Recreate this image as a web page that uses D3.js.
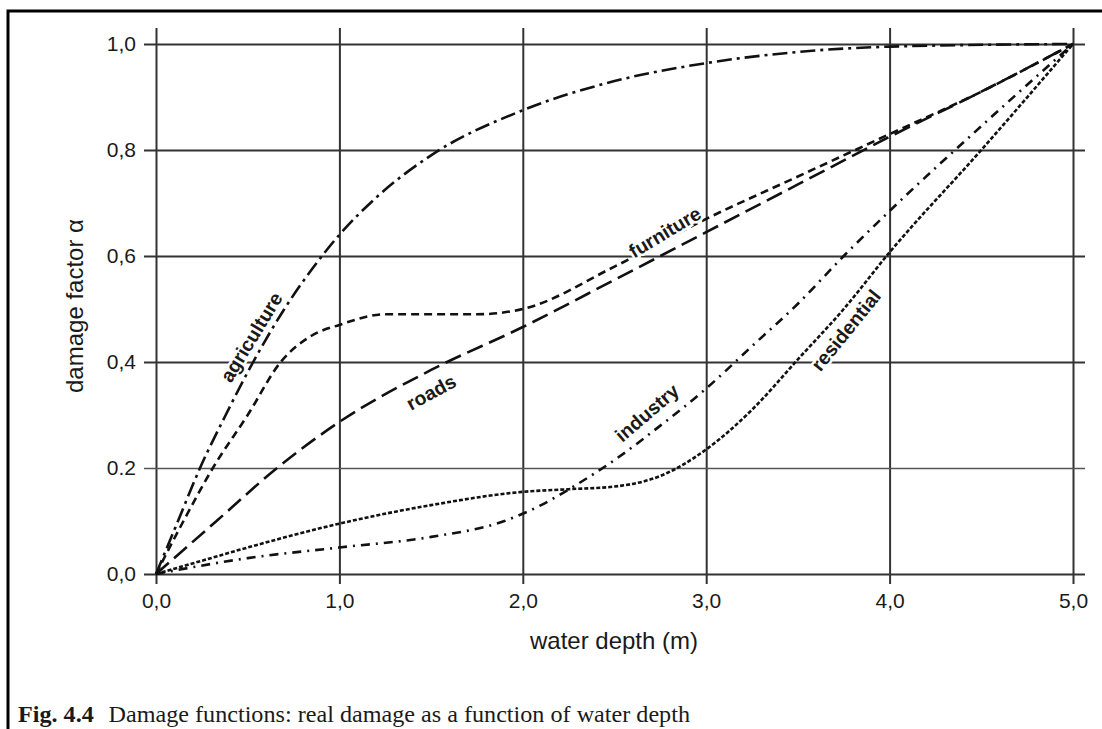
<!DOCTYPE html>
<html lang="en">
  <head>
    <meta charset="utf-8" />
    <title>Damage functions</title>
    <script src="https://d3js.org/d3.v7.js"></script>
    <style>
      body { margin: 0; background: #fff; }
      text { font-family: "Liberation Sans", Arial, sans-serif; fill: #1a1a1a; }
      text.caption { font-family: "Liberation Serif", "Times New Roman", serif; }
    </style>
  </head>
  <body>
    <script>

    // tick values and labels
    var xTicks = [0, 1, 2, 3, 4, 5];
    var xTickLabels = ["0,0", "1,0", "2,0", "3,0", "4,0", "5,0"];
    var yTicks = [0, 0.2, 0.4, 0.6, 0.8, 1.0];
    var yTickLabels = ["0,0", "0.2", "0,4", "0,6", "0,8", "1,0"];

    // damage curves (depth m, factor)
    var agriculture = [[0,0],[0.12,0.1],[0.24,0.2],[0.38,0.3],[0.53,0.4],[0.7,0.5],[0.85,0.575],[1,0.64],[1.2,0.71],[1.5,0.79],[2,0.875],[2.5,0.93],[3,0.964],[3.5,0.985],[4,0.995],[5,1]];
    var furniture = [[0,0],[0.15,0.1],[0.31,0.2],[0.5,0.3],[0.68,0.4],[0.85,0.45],[1,0.47],[1.25,0.49],[1.5,0.49],[1.75,0.49],[2,0.5],[2.5,0.58],[3,0.67],[3.5,0.75],[4,0.83],[4.5,0.91],[5,1]];
    var roads = [[0,0],[0.33,0.1],[0.66,0.2],[1,0.287],[1.5,0.385],[2,0.466],[2.5,0.555],[3,0.645],[3.5,0.735],[4,0.825],[4.5,0.91],[5,1]];
    var industry = [[0,0],[0.5,0.03],[1,0.05],[1.5,0.07],[1.9,0.1],[2.1,0.13],[2.3,0.17],[2.5,0.215],[2.75,0.28],[3,0.35],[3.25,0.43],[3.5,0.51],[3.75,0.6],[4,0.685],[4.5,0.845],[5,1]];
    var residential = [[0,0],[0.25,0.025],[0.5,0.05],[1,0.095],[1.5,0.13],[2,0.155],[2.25,0.16],[2.5,0.165],[2.75,0.185],[3,0.235],[3.25,0.31],[3.5,0.405],[3.75,0.5],[4,0.607],[4.5,0.8],[5,1]];

    // curve labels: name, position (data units), angle
    var labelNames = ["agriculture", "roads", "furniture", "industry", "residential"];
    var labelPos = [[0.52, 0.447], [1.5, 0.343], [2.775, 0.645], [2.677, 0.304], [3.762, 0.46]];
    var labelAngles = [-58.6, -28.6, -31, -40.6, -51];

    var w = 1102, h = 729;

    var x = d3.scaleLinear().domain([0, 5]).range([156, 1073]);
    var y = d3.scaleLinear().domain([0, 1]).range([574, 44]);

    var svg = d3.select("body")
      .append("svg")
        .attr("width", w)
        .attr("height", h);

    // frame
    svg.append("path")
      .attr("d", `M8,${h} L8,11 L${w},11`)
      .attr("fill", "none")
      .attr("stroke", "#000")
      .attr("stroke-width", 3);

    // x axis with full-height grid lines
    var xAxis = svg.append("g")
      .attr("transform", "translate(0,584)")
      .call(d3.axisBottom(x)
        .tickValues(xTicks)
        .tickFormat((d, i) => xTickLabels[i])
        .tickSizeInner(-(584 - 28))
        .tickSizeOuter(0)
        .tickPadding(9));

    // y axis with full-width grid lines
    var yAxis = svg.append("g")
      .attr("transform", "translate(144,0)")
      .call(d3.axisLeft(y)
        .tickValues(yTicks)
        .tickFormat((d, i) => yTickLabels[i])
        .tickSizeInner(-(1085 - 144))
        .tickSizeOuter(0)
        .tickPadding(8));

    [xAxis, yAxis].forEach(function(ax) {
      ax.select(".domain").remove();
      ax.selectAll(".tick line")
        .attr("stroke", "#333")
        .attr("stroke-width", 2);
      ax.selectAll(".tick text")
        .attr("font-size", 21)
        .attr("fill", "#111");
    });
    yAxis.selectAll(".tick line")
      .filter(d => d === 0.2)
      .attr("stroke-width", 1.4)
      .attr("stroke", "#555");

    // axis titles
    svg.append("text")
      .attr("x", 614)
      .attr("y", 649)
      .attr("text-anchor", "middle")
      .attr("font-size", 24)
      .text("water depth (m)");

    svg.append("text")
      .attr("transform", "translate(83,306) rotate(-90)")
      .attr("text-anchor", "middle")
      .attr("font-size", 24)
      .text("damage factor α");

    // curves
    var line = d3.line()
      .x(d => x(d[0]))
      .y(d => y(d[1]))
      .curve(d3.curveMonotoneX);

    var series = [
      {data: agriculture, dash: "15,5,3,5"},
      {data: furniture, dash: "8,5"},
      {data: roads, dash: "17,7"},
      {data: industry, dash: "9,6,2,6"},
      {data: residential, dash: "4,2"}
    ];

    svg.append("g")
      .selectAll("path")
      .data(series)
      .join("path")
        .attr("d", d => line(d.data))
        .attr("fill", "none")
        .attr("stroke", "#111")
        .attr("stroke-width", 2.6)
        .attr("stroke-dasharray", d => d.dash);

    // curve labels
    svg.append("g")
      .selectAll("text")
      .data(labelNames)
      .join("text")
        .attr("transform", (d, i) => `translate(${x(labelPos[i][0])},${y(labelPos[i][1])}) rotate(${labelAngles[i]})`)
        .attr("text-anchor", "middle")
        .attr("dy", "0.35em")
        .attr("font-size", 19.5)
        .attr("font-weight", "bold")
        .attr("stroke", "#fff")
        .attr("stroke-width", 5)
        .attr("paint-order", "stroke")
        .text(d => d);

    // caption
    var cap = svg.append("text")
      .attr("class", "caption")
      .attr("x", 18)
      .attr("y", 722)
      .attr("font-size", 23)
      .attr("fill", "#111")
      .attr("textLength", 672)
      .attr("lengthAdjust", "spacingAndGlyphs");
    cap.append("tspan")
      .attr("font-weight", "bold")
      .text("Fig. 4.4");
    cap.append("tspan")
      .attr("dx", 14)
      .text("Damage functions: real damage as a function of water depth");

    </script>
  </body>
</html>
